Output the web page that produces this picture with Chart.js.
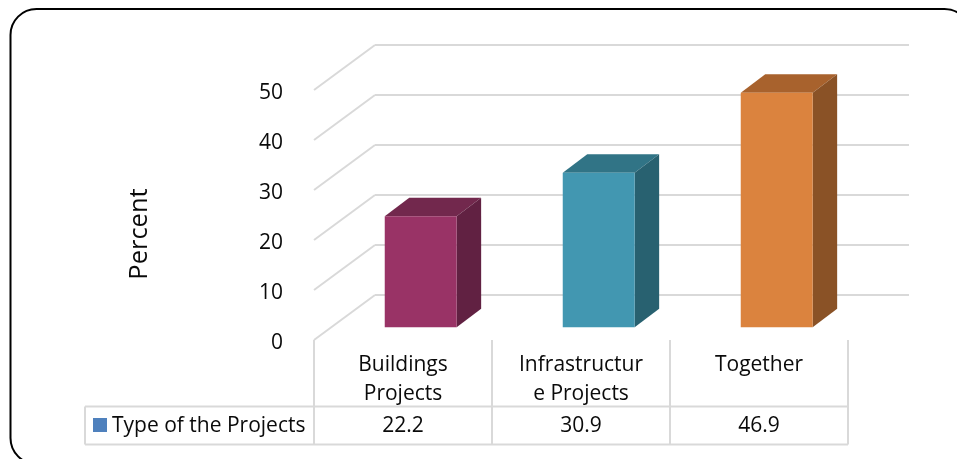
<!DOCTYPE html>
<html>
<head>
<meta charset="utf-8">
<style>html,body{margin:0;padding:0;background:#fff}canvas{display:block}</style>
<script src="https://cdn.jsdelivr.net/npm/chart.js@4"></script>
</head>
<body>
<div style="width:957px;height:459px;position:relative;overflow:hidden"><canvas id="c" width="957" height="459"></canvas></div>
<script>
const categories = [["Buildings","Projects"],["Infrastructur","e Projects"],["Together"]];
const seriesName = "Type of the Projects";
const values = [22.2, 30.9, 46.9];
const frontColors = ["#993366","#4297B1","#DB833E"];
const topColors = ["#72284D","#317486","#A8622D"];
const sideColors = ["#612142","#286170","#8A5226"];
const axisTitle = "Percent";
const FONT = '"Open Sans"';
const GRID = "#d9d9d9";
const DEPTH_X = 61, DEPTH_Y = 45;       // wall depth
const BAR_DX = 17.7, BAR_DY = -12.7;    // bars sit mid-way in the depth
const BAR_DEPTH_X = 24.5, BAR_DEPTH_Y = 18.5;

function line(ctx,x1,y1,x2,y2){ctx.beginPath();ctx.moveTo(x1,y1);ctx.lineTo(x2,y2);ctx.stroke();}
function poly(ctx,pts,fill){ctx.fillStyle=fill;ctx.beginPath();pts.forEach((p,i)=>i?ctx.lineTo(p[0],p[1]):ctx.moveTo(p[0],p[1]));ctx.closePath();ctx.fill();}

const scene = {
  id:"scene",
  beforeDraw(chart){
    const {ctx,scales:{x,y},chartArea:a}=chart;
    ctx.save();
    // frame
    ctx.strokeStyle="#000";ctx.lineWidth=2;
    ctx.beginPath();ctx.roundRect(10.5,9,960,455,26);ctx.stroke();
    // walls
    ctx.strokeStyle=GRID;ctx.lineWidth=2;
    y.ticks.forEach(t=>{
      const py=y.getPixelForValue(t.value);
      line(ctx,a.left,py,a.left+DEPTH_X,py-DEPTH_Y);
      line(ctx,a.left+DEPTH_X,py-DEPTH_Y,909,py-DEPTH_Y);
    });
    // data table grid
    const tTop=406.5,tBot=444.5,legL=85;
    ctx.lineWidth=2;
    line(ctx,legL,tTop,a.right,tTop);
    line(ctx,legL,tBot,a.right,tBot);
    line(ctx,legL,tTop,legL,tBot);
    const step=(a.right-a.left)/categories.length;
    for(let i=0;i<=categories.length;i++){
      const px=a.left+i*step;
      line(ctx,px,a.bottom,px,tBot);
    }
    // data table text
    ctx.fillStyle="#4F81BD";ctx.fillRect(93,418,14,14);
    ctx.fillStyle="#0a0a0a";ctx.font='21px '+FONT;ctx.textBaseline="middle";
    ctx.textAlign="left";ctx.fillText(seriesName,112,426);
    ctx.textAlign="center";
    values.forEach((v,i)=>ctx.fillText(v.toFixed(1),x.getPixelForTick(i),426));
    // axis title
    ctx.translate(140,234);ctx.rotate(-Math.PI/2);
    ctx.font='25.5px '+FONT;ctx.fillText(axisTitle,0,0);
    ctx.restore();
  },
  beforeDatasetsDraw(chart){
    const ctx=chart.ctx;
    ctx.save();
    ctx.translate(BAR_DX,BAR_DY);
    chart.getDatasetMeta(0).data.forEach((el,i)=>{
      const {x,y,base,width}=el.getProps(['x','y','base','width'],true);
      const l=x-width/2,r=x+width/2;
      poly(ctx,[[l,y],[l+BAR_DEPTH_X,y-BAR_DEPTH_Y],[r+BAR_DEPTH_X,y-BAR_DEPTH_Y],[r,y]],topColors[i]);
      poly(ctx,[[r,y],[r+BAR_DEPTH_X,y-BAR_DEPTH_Y],[r+BAR_DEPTH_X,base-BAR_DEPTH_Y],[r,base]],sideColors[i]);
    });
  },
  afterDatasetsDraw(chart){ chart.ctx.restore(); }
};

new Chart(document.getElementById("c"),{
  type:"bar",
  data:{labels:categories,datasets:[{label:seriesName,data:values,backgroundColor:frontColors,barPercentage:0.404,categoryPercentage:1,clip:false}]},
  plugins:[scene],
  options:{
    responsive:false,animation:false,events:[],
    layout:{padding:{left:0,top:90,right:109,bottom:0}},
    plugins:{legend:{display:false},tooltip:{enabled:false},title:{display:false}},
    scales:{
      x:{
        grid:{display:false},border:{display:false},
        afterFit(s){s.height=119;},
        ticks:{color:"#0a0a0a",font:{family:FONT,size:21,lineHeight:1.38},padding:3,maxRotation:0,autoSkip:false}
      },
      y:{
        min:0,max:50,
        grid:{display:false},border:{display:false},
        afterFit(s){s.width=314;},
        ticks:{stepSize:10,color:"#0a0a0a",font:{family:FONT,size:21},padding:23,labelOffset:3}
      }
    }
  }
});
</script>
</body>
</html>
